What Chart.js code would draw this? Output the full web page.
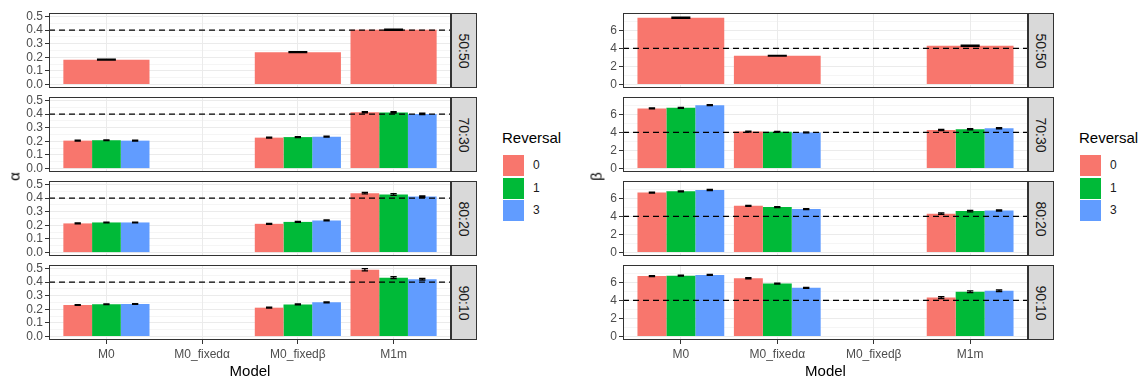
<!DOCTYPE html>
<html>
<head>
<meta charset="utf-8">
<script src="https://cdn.jsdelivr.net/npm/chart.js@4"></script>
<style>
body { margin: 0; background: #fff; width: 1146px; height: 384px; position: relative; overflow: hidden; font-family: "Liberation Sans", Arial, sans-serif; }
canvas, .strip, .txt, .key { position: absolute; }
.strip { background: #d9d9d9; border: 1px solid #333; box-sizing: border-box; }
.strip span { position: absolute; left: 50%; top: 50%; transform: translate(-50%, -50%) rotate(90deg); font-size: 14px; color: #1a1a1a; white-space: nowrap; }
.txt { white-space: nowrap; color: #000; }
.key { width: 21px; height: 21px; }
</style>
</head>
<body>
<script>
var models = ["M0", "M0_fixedα", "M0_fixedβ", "M1m"];
var facets = ["50:50", "70:30", "80:20", "90:10"];
var reversals = ["0", "1", "3"];
var fills = ["#F8766D", "#00BA38", "#619CFF"];

// alpha estimates, one row per reversal (50:50 only has reversal 0)
var alpha5050 = [[0.183, null, 0.238, 0.402]];
var alpha7030 = [[0.205, null, 0.227, 0.413], [0.208, null, 0.231, 0.412], [0.205, null, 0.234, 0.401]];
var alpha8020 = [[0.214, null, 0.211, 0.436], [0.221, null, 0.225, 0.426], [0.221, null, 0.236, 0.411]];
var alpha9010 = [[0.232, null, 0.212, 0.490], [0.237, null, 0.236, 0.432], [0.239, null, 0.251, 0.421]];
var alphaSe5050 = [[0.003, null, 0.003, 0.004]];
var alphaSe7030 = [[0.003, null, 0.003, 0.005], [0.003, null, 0.003, 0.005], [0.003, null, 0.003, 0.005]];
var alphaSe8020 = [[0.003, null, 0.003, 0.006], [0.003, null, 0.003, 0.006], [0.003, null, 0.003, 0.005]];
var alphaSe9010 = [[0.003, null, 0.003, 0.008], [0.003, null, 0.003, 0.007], [0.003, null, 0.003, 0.006]];

// beta estimates
var beta5050 = [[7.37, 3.17, null, 4.28]];
var beta7030 = [[6.64, 4.08, null, 4.26], [6.71, 4.07, null, 4.33], [7.00, 3.98, null, 4.44]];
var beta8020 = [[6.62, 5.16, null, 4.29], [6.76, 5.02, null, 4.58], [6.90, 4.80, null, 4.65]];
var beta9010 = [[6.68, 6.43, null, 4.30], [6.72, 5.85, null, 4.95], [6.80, 5.38, null, 5.05]];
var betaSe5050 = [[0.07, 0.04, null, 0.06]];
var betaSe7030 = [[0.05, 0.05, null, 0.07], [0.05, 0.04, null, 0.07], [0.06, 0.04, null, 0.07]];
var betaSe8020 = [[0.05, 0.05, null, 0.08], [0.05, 0.05, null, 0.08], [0.06, 0.05, null, 0.07]];
var betaSe9010 = [[0.05, 0.06, null, 0.10], [0.05, 0.06, null, 0.10], [0.05, 0.05, null, 0.09]];

var alphaTicks = [0, 0.1, 0.2, 0.3, 0.4, 0.5];
var alphaTickLabels = ["0.0", "0.1", "0.2", "0.3", "0.4", "0.5"];
var alphaMinor = [0.05, 0.15, 0.25, 0.35, 0.45];
var betaTicks = [0, 2, 4, 6];
var betaTickLabels = ["0", "2", "4", "6"];
var betaMinor = [1, 3, 5, 7];
var alphaRef = 0.4;
var betaRef = 4;

var FONT = "'Liberation Sans', Arial, sans-serif";
var facetTop = [13, 97, 181, 265];
var facetH = 75;
var PAD = 7; // room for tick labels above / below a panel

var facetPlugin = {
    id: "facet",
    afterDatasetsDraw: function (chart, args, o) {
        var ctx = chart.ctx, area = chart.chartArea, y = chart.scales.y;
        // error bars
        chart.data.datasets.forEach(function (ds, i) {
            var meta = chart.getDatasetMeta(i);
            meta.data.forEach(function (bar, j) {
                var v = ds.data[j].y;
                if (v == null) return;
                var hi = y.getPixelForValue(v + ds.se[j]);
                var lo = y.getPixelForValue(v - ds.se[j]);
                var half = bar.width * 0.11;
                ctx.save();
                ctx.strokeStyle = "#000";
                ctx.lineWidth = 1.3;
                ctx.beginPath();
                ctx.moveTo(bar.x - half, hi); ctx.lineTo(bar.x + half, hi);
                ctx.moveTo(bar.x - half, lo); ctx.lineTo(bar.x + half, lo);
                ctx.moveTo(bar.x, hi); ctx.lineTo(bar.x, lo);
                ctx.stroke();
                ctx.restore();
            });
        });
        // dashed reference line
        var ry = y.getPixelForValue(o.ref);
        ctx.save();
        ctx.setLineDash([6, 4]);
        ctx.lineWidth = 1.3;
        ctx.strokeStyle = "#000";
        ctx.beginPath();
        ctx.moveTo(area.left, ry);
        ctx.lineTo(area.right, ry);
        ctx.stroke();
        ctx.restore();
        // panel border
        ctx.save();
        ctx.strokeStyle = "#333";
        ctx.lineWidth = 1;
        ctx.strokeRect(area.left + 0.5, area.top + 0.5, area.right - area.left - 1, area.bottom - area.top - 1);
        ctx.restore();
    }
};

function addDiv(cls, html, style) {
    var d = document.createElement("div");
    d.className = cls;
    d.innerHTML = html;
    d.style.cssText = style;
    document.body.appendChild(d);
    return d;
}

function makeFacet(p, f, means, ses) {
    var bottom = f === facets.length - 1;
    var canvas = document.createElement("canvas");
    canvas.width = p.width;
    canvas.height = PAD + facetH + (bottom ? 26 : PAD);
    canvas.style.left = p.left + "px";
    canvas.style.top = (facetTop[f] - PAD) + "px";
    document.body.appendChild(canvas);

    var datasets = means.map(function (row, r) {
        return {
            label: reversals[r],
            data: row.map(function (v, i) { return { x: i + 1, y: v }; }),
            se: ses[r],
            backgroundColor: fills[r],
            borderWidth: 0,
            categoryPercentage: 0.9,
            barPercentage: 1.0
        };
    });

    var allTicks = p.ticks.concat(p.minor).sort(function (a, b) { return a - b; });

    new Chart(canvas.getContext("2d"), {
        type: "bar",
        data: { datasets: datasets },
        plugins: [facetPlugin],
        options: {
            responsive: false,
            animation: false,
            devicePixelRatio: 1,
            layout: { padding: { top: PAD, bottom: bottom ? 0 : PAD, left: 0, right: 0 } },
            plugins: { legend: { display: false }, tooltip: { enabled: false }, facet: { ref: p.ref } },
            scales: {
                x: {
                    type: "linear",
                    min: 0.4,
                    max: 4.6,
                    offset: false,
                    afterBuildTicks: function (s) {
                        s.ticks = models.map(function (m, i) { return { value: i + 1 }; });
                    },
                    afterFit: function (s) {
                        s.height = bottom ? 26 : 0;
                        s.paddingLeft = 0;
                        s.paddingRight = 0;
                    },
                    ticks: {
                        display: bottom,
                        autoSkip: false,
                        maxRotation: 0,
                        padding: 3,
                        color: "#4d4d4d",
                        font: { size: 12, family: FONT },
                        callback: function (v) { return models[v - 1]; }
                    },
                    grid: { color: "#ebebeb", lineWidth: 1, offset: false, drawTicks: bottom, tickLength: 4, tickColor: "#333" },
                    border: { display: false }
                },
                y: {
                    min: p.min,
                    max: p.max,
                    afterBuildTicks: function (s) {
                        s.ticks = allTicks.map(function (v) { return { value: v }; });
                    },
                    afterFit: function (s) {
                        s.width = p.yWidth;
                        s.paddingTop = 0;
                        s.paddingBottom = 0;
                    },
                    ticks: {
                        autoSkip: false,
                        padding: 2,
                        color: "#4d4d4d",
                        font: { size: 12, family: FONT },
                        callback: function (v) {
                            var k = p.ticks.indexOf(v);
                            return k >= 0 ? p.tickLabels[k] : "";
                        }
                    },
                    grid: {
                        color: "#ebebeb",
                        lineWidth: function (c) { return c.tick && p.ticks.indexOf(c.tick.value) >= 0 ? 1 : 0.5; },
                        tickLength: 4,
                        tickColor: function (c) { return c.tick && p.ticks.indexOf(c.tick.value) >= 0 ? "#333" : "rgba(0,0,0,0)"; }
                    },
                    border: { display: false }
                }
            }
        }
    });

    addDiv("strip", "<span>" + facets[f] + "</span>",
        "left:" + p.stripLeft + "px;top:" + facetTop[f] + "px;width:26px;height:" + facetH + "px;");
}

function makePanel(p) {
    p.means.forEach(function (m, f) { makeFacet(p, f, m, p.ses[f]); });
    var plotLeft = p.left + p.yWidth, plotRight = p.left + p.width;
    // axis titles
    addDiv("txt", "Model", "font-size:15px;top:362px;left:" + ((plotLeft + plotRight) / 2) + "px;transform:translateX(-50%);");
    addDiv("txt", p.title, "font-size:15px;top:168px;left:" + p.titleX + "px;transform:translateX(-50%) rotate(-90deg);");
    // legend
    addDiv("txt", "Reversal", "font-size:15px;top:129px;left:" + p.legendX + "px;");
    reversals.forEach(function (r, i) {
        addDiv("key", "", "left:" + (p.legendX + 1) + "px;top:" + (155 + i * 22.5) + "px;background:" + fills[i] + ";");
        addDiv("txt", r, "font-size:12px;color:#1a1a1a;top:" + (158 + i * 22.5) + "px;left:" + (p.legendX + 31) + "px;");
    });
}

makePanel({
    left: 20, width: 431, yWidth: 29, stripLeft: 451,
    min: -0.025, max: 0.525, ticks: alphaTicks, tickLabels: alphaTickLabels, minor: alphaMinor, ref: alphaRef,
    means: [alpha5050, alpha7030, alpha8020, alpha9010],
    ses: [alphaSe5050, alphaSe7030, alphaSe8020, alphaSe9010],
    title: "α", titleX: 14, legendX: 502
});

makePanel({
    left: 590, width: 438, yWidth: 33, stripLeft: 1028,
    min: -0.38, max: 7.9, ticks: betaTicks, tickLabels: betaTickLabels, minor: betaMinor, ref: betaRef,
    means: [beta5050, beta7030, beta8020, beta9010],
    ses: [betaSe5050, betaSe7030, betaSe8020, betaSe9010],
    title: "β", titleX: 596, legendX: 1079
});
</script>
</body>
</html>
